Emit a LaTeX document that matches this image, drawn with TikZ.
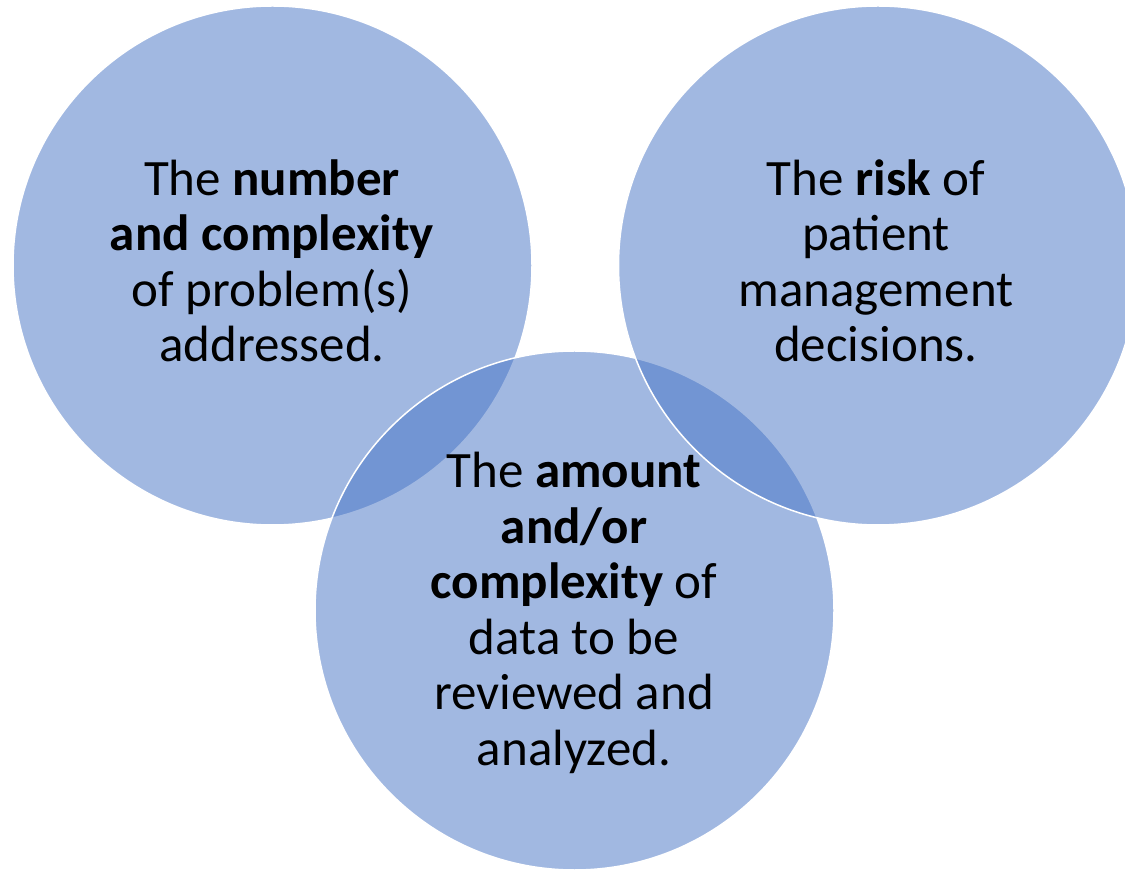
\documentclass[tikz,border=0pt]{standalone}
\usepackage{fontspec}
\setmainfont{Carlito}
\definecolor{accent}{HTML}{4472C4}
\tikzset{
  venn/.style={circle, draw=white, line width=1.5pt, fill=accent, fill opacity=0.5, draw opacity=1, minimum size=519pt, inner sep=0pt, outer sep=0pt},
  label text/.style={align=center, anchor=base, inner sep=0pt, text=black, font=\fontsize{51}{55.5}\selectfont}
}
\begin{document}
\begin{tikzpicture}[x=1pt,y=1pt]
\useasboundingbox (0,0) rectangle (1125,871);
\clip (0,0) rectangle (1125,871);
\node[venn] (cL) at (272.5,605.5) {};
\node[venn] (cB) at (574.5,260.5) {};
\node[venn] (cR) at (878,605.5) {};
\node[label text] (tL) at (272,509) {The \textbf{number}\\\textbf{and complexity}\\of problem(s)\\addressed.};
\node[label text] (tR) at (876,509) {The \textbf{risk} of\\patient\\management\\decisions.};
\node[label text] (tB) at (574,106) {The \textbf{amount}\\\textbf{and/or}\\\textbf{complexity} of\\data to be\\reviewed and\\analyzed.};
\end{tikzpicture}
\end{document}
